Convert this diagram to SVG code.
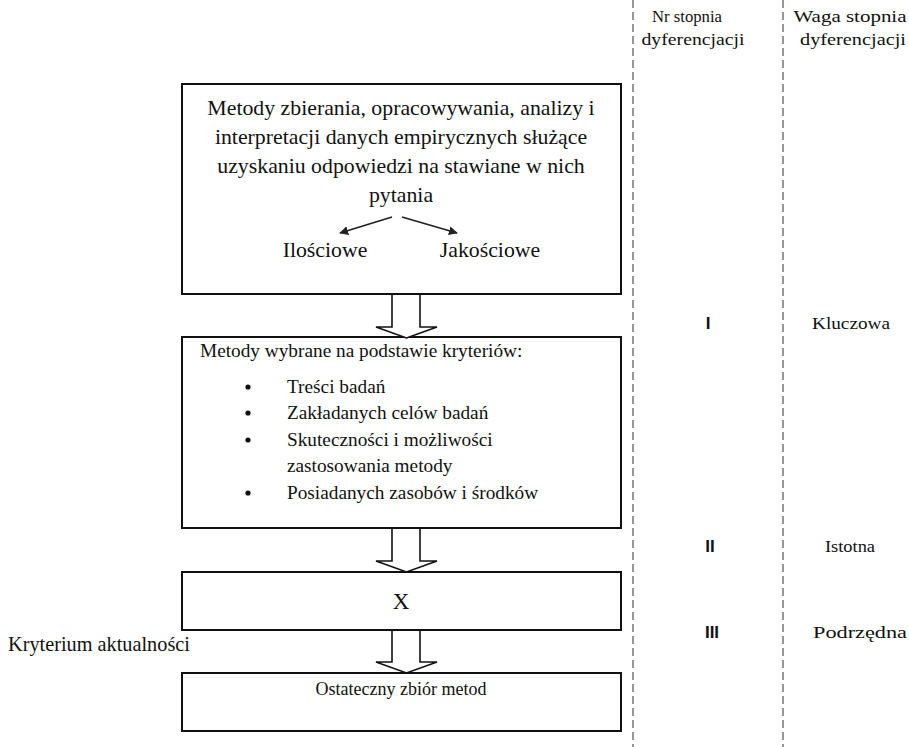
<svg xmlns="http://www.w3.org/2000/svg" width="909" height="747" viewBox="0 0 909 747">
<style>
.box{fill:#fff;stroke:#111;stroke-width:2}
.blk{fill:#fff;stroke:#111;stroke-width:1.6;stroke-linejoin:miter}
.dash{stroke:#777;stroke-width:1.5;stroke-dasharray:8 4;fill:none}
.t{font-family:"Liberation Serif","Times New Roman",serif;fill:#111}
.s{font-family:"Liberation Sans",Arial,sans-serif;fill:#111;font-weight:bold}
.thin{stroke:#222;stroke-width:1.5;fill:none}
</style>
<defs>
<marker id="ah" viewBox="0 0 10 10" refX="9" refY="5" markerWidth="9" markerHeight="9" markerUnits="userSpaceOnUse" orient="auto">
<path d="M0,0 L10,5 L0,10 z" fill="#222"/>
</marker>
</defs>
<rect width="909" height="747" fill="#fff"/>
<g id="columns">
<line class="dash" x1="633" y1="0" x2="633" y2="747"/>
<line class="dash" x1="783" y1="0" x2="783" y2="747"/>
<g class="t" font-size="17.5" text-anchor="middle">
<text x="687" y="22" textLength="70" lengthAdjust="spacingAndGlyphs">Nr stopnia</text>
<text x="693" y="45" textLength="103" lengthAdjust="spacingAndGlyphs">dyferencjacji</text>
<text x="850" y="22" textLength="113" lengthAdjust="spacingAndGlyphs">Waga stopnia</text>
<text x="853" y="45" textLength="106" lengthAdjust="spacingAndGlyphs">dyferencjacji</text>
</g>
</g>
<g id="levels">
<text class="s" x="708" y="329" font-size="17" text-anchor="middle">I</text>
<text class="t" x="851" y="329" font-size="17.5" text-anchor="middle" textLength="78" lengthAdjust="spacingAndGlyphs">Kluczowa</text>
<text class="s" x="710" y="552" font-size="17" text-anchor="middle">II</text>
<text class="t" x="850" y="552" font-size="17.5" text-anchor="middle" textLength="50" lengthAdjust="spacingAndGlyphs">Istotna</text>
<text class="s" x="712" y="638" font-size="17" text-anchor="middle">III</text>
<text class="t" x="860" y="638" font-size="17.5" text-anchor="middle" textLength="94" lengthAdjust="spacingAndGlyphs">Podrzędna</text>
</g>
<g id="node1">
<rect class="box" x="182" y="84" width="439" height="210"/>
<g class="t" font-size="21.8" text-anchor="middle">
<text x="401" y="115">Metody zbierania, opracowywania, analizy i</text>
<text x="401" y="144">interpretacji danych empirycznych służące</text>
<text x="401" y="173">uzyskaniu odpowiedzi na stawiane w nich</text>
<text x="401" y="202">pytania</text>
<text x="325" y="257">Ilościowe</text>
<text x="490" y="257">Jakościowe</text>
</g>
<line class="thin" x1="392" y1="217" x2="340" y2="233" marker-end="url(#ah)"/>
<line class="thin" x1="402" y1="217" x2="457" y2="233" marker-end="url(#ah)"/>
</g>
<g id="node2">
<rect class="box" x="182" y="337" width="439" height="191"/>
<g class="t" font-size="19.3">
<text x="200" y="357">Metody wybrane na podstawie kryteriów:</text>
<text x="287" y="393">Treści badań</text>
<text x="287" y="419">Zakładanych celów badań</text>
<text x="287" y="446">Skuteczności i możliwości</text>
<text x="287" y="472">zastosowania metody</text>
<text x="287" y="499">Posiadanych zasobów i środków</text>
</g>
<g fill="#111">
<circle cx="248" cy="387" r="2.6"/>
<circle cx="248" cy="413" r="2.6"/>
<circle cx="248" cy="440" r="2.6"/>
<circle cx="248" cy="493" r="2.6"/>
</g>
</g>
<g id="node3">
<rect class="box" x="182" y="572" width="439" height="58"/>
<text class="t" x="401" y="609" font-size="23" text-anchor="middle">X</text>
</g>
<g id="node4">
<rect class="box" x="182" y="673" width="439" height="58"/>
<text class="t" x="401" y="695" font-size="18" text-anchor="middle">Ostateczny zbiór metod</text>
</g>
<g id="label-kryterium">
<text class="t" x="8" y="651" font-size="20.3">Kryterium aktualności</text>
</g>
<g id="connectors">
<path class="blk" d="M392,295 V327 H376 L406.5,338 L437,327 H420 V295"/>
<path class="blk" d="M392,529 V561 H376 L406.5,572 L437,561 H420 V529"/>
<path class="blk" d="M392,631 V662 H376 L406.5,673 L437,662 H420 V631"/>
</g>
</svg>
